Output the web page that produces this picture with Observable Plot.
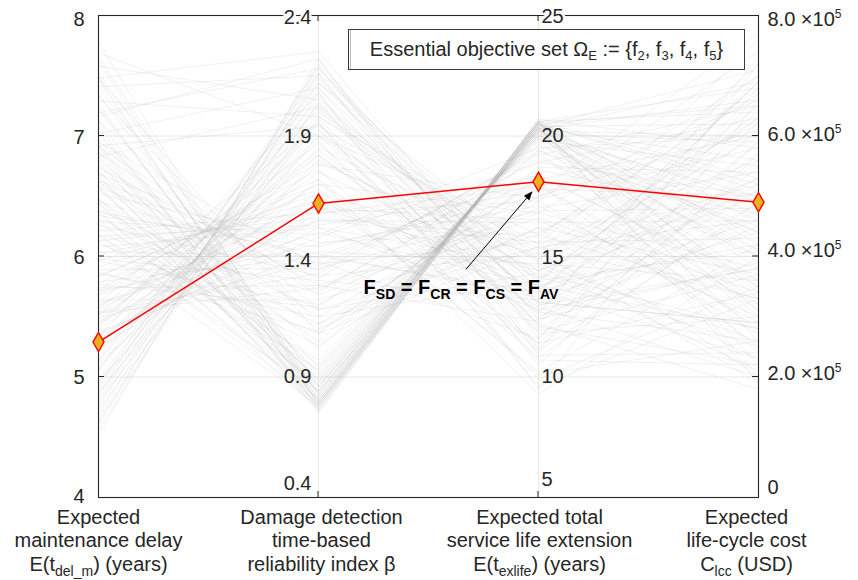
<!DOCTYPE html>
<html>
<head>
<meta charset="utf-8">
<script src="https://cdn.jsdelivr.net/npm/d3@7"></script>
<script src="https://cdn.jsdelivr.net/npm/@observablehq/plot@0.6"></script>
<style>
  body { margin: 0; background: #fff; }
  svg { display: block; }
</style>
</head>
<body>
<div id="chart"></div>
<script>
// Pareto solutions: expected maintenance delay (years)
const delay = [
  7.78, 7.62, 7.49, 7.41, 7.27, 7.22, 7.08, 7.04, 6.93, 6.91,
  6.83, 6.79, 6.76, 6.68, 6.66, 6.57, 6.56, 6.48, 6.44, 6.38,
  6.36, 6.31, 6.24, 6.19, 7.66, 7.34, 7.13, 6.97, 6.71, 6.59,
  6.43, 6.27, 7.46, 7.24, 6.87, 6.63, 7.53, 6.14, 6.06, 7.01,
  6.81, 6.62, 6.47, 6.39, 6.32, 6.18, 6.11, 5.98, 5.96, 5.89,
  5.86, 5.79, 5.74, 5.71, 5.64, 5.61, 5.54, 5.49, 5.46, 5.38,
  5.36, 5.31, 6.69, 6.26, 6.04, 5.77, 5.53, 5.24, 6.16, 5.87,
  5.68, 5.59, 5.51, 5.44, 5.39, 5.29, 5.26, 5.21, 5.14, 5.09,
  5.06, 4.99, 4.96, 4.91, 4.84, 4.79, 4.76, 4.69, 4.66, 4.61,
  4.56, 4.52, 5.34, 5.12, 4.97, 4.88, 4.73, 4.63, 5.56, 4.81,
  7.58, 7.41, 7.29, 7.16, 7.02, 6.92, 7.48, 6.83, 7.69, 7.19,
  6.52, 5.83, 6.21, 5.47, 6.95, 5.62, 6.08, 5.33, 6.74, 5.91,
  6.37, 5.18, 6.63, 5.72, 6.02, 5.41, 6.86, 5.97, 6.29, 5.57,
  7.12, 5.06, 6.45, 5.84, 6.13, 5.26, 6.58, 5.69, 7.33, 4.93,
  6.17, 5.52, 6.91, 5.78, 6.34, 5.14, 7.48, 5.44, 6.69, 4.86
];
// time-based reliability index beta
const beta = [
  0.78, 0.80, 0.76, 0.83, 0.79, 0.86, 0.77, 0.81, 0.84, 0.78,
  0.88, 0.80, 0.92, 0.76, 0.85, 0.79, 0.90, 0.82, 0.95, 0.77,
  0.87, 0.81, 0.93, 0.79, 0.82, 0.88, 0.75, 0.91, 0.84, 0.78,
  0.86, 0.97, 0.79, 0.83, 0.80, 0.89, 0.86, 0.84, 0.78, 0.94,
  1.02, 1.10, 1.05, 1.18, 1.12, 1.25, 1.08, 1.30, 1.20, 1.35,
  1.15, 1.40, 1.28, 1.45, 1.22, 1.50, 1.33, 1.38, 1.55, 1.42,
  1.48, 1.52, 1.15, 1.32, 1.40, 1.19, 1.27, 1.60, 1.03, 1.09,
  1.55, 1.62, 1.70, 1.66, 1.75, 1.82, 1.78, 1.88, 1.92, 1.85,
  1.97, 2.02, 1.95, 2.06, 2.10, 2.00, 2.14, 2.18, 2.08, 2.20,
  2.16, 2.22, 1.58, 1.72, 1.80, 1.90, 1.98, 2.04, 1.64, 2.12,
  2.05, 2.15, 1.98, 2.22, 2.10, 1.94, 2.25, 2.02, 1.90, 2.18,
  1.46, 1.72, 1.58, 1.84, 1.36, 1.95, 1.52, 2.08, 1.28, 1.66,
  1.41, 1.90, 1.34, 1.76, 1.60, 2.01, 1.24, 1.63, 1.49, 1.87,
  1.18, 2.12, 1.39, 1.70, 1.56, 1.96, 1.31, 1.79, 1.12, 2.16,
  1.53, 1.82, 1.26, 1.68, 1.44, 2.03, 1.08, 1.93, 1.37, 2.19
];
// expected total service life extension (years)
const life = [
  20.6, 20.5, 20.7, 20.4, 20.6, 20.3, 20.5, 20.6, 20.2, 20.4,
  20.1, 20.6, 20.0, 20.5, 20.3, 20.6, 20.1, 20.4, 19.9, 20.6,
  20.2, 20.5, 20.0, 20.4, 20.3, 20.2, 20.7, 19.9, 20.3, 20.5,
  20.2, 19.8, 20.6, 20.4, 20.5, 20.1, 20.3, 20.3, 20.5, 20.0,
  19.4, 16.2, 18.7, 14.3, 17.5, 19.1, 15.4, 13.2, 18.0, 16.9,
  14.0, 18.4, 12.3, 17.1, 15.9, 13.8, 19.3, 11.6, 16.4, 14.7,
  18.9, 12.8, 17.8, 15.1, 13.5, 19.6, 16.6, 14.4, 17.3, 18.2,
  15.6, 11.4, 16.8, 10.2, 14.1, 12.7, 17.4, 9.9, 13.4, 15.2,
  12.0, 13.2, 10.7, 13.7, 11.8, 14.8, 12.5, 12.9, 9.5, 13.0,
  14.1, 10.9, 17.9, 9.3, 14.4, 12.2, 15.5, 11.1, 13.8, 14.9,
  13.5, 12.4, 14.7, 11.6, 13.1, 15.3, 12.7, 14.0, 15.9, 13.6,
  16.0, 11.4, 17.3, 13.1, 18.9, 12.2, 14.6, 10.5, 16.8, 15.1,
  13.3, 14.2, 19.2, 10.8, 16.5, 12.6, 17.0, 13.6, 19.5, 11.9,
  15.4, 13.9, 18.1, 12.9, 15.8, 9.6, 19.4, 14.9, 16.2, 11.2,
  17.7, 12.4, 18.6, 10.1, 17.5, 14.4, 18.3, 11.0, 15.6, 12.1
];
// expected life-cycle cost (USD)
const cost = [
  4.2e5, 5.1e5, 3.3e5, 6.2e5, 2.6e5, 5.6e5, 3.8e5, 6.8e5, 4.6e5, 2.2e5,
  5.9e5, 3.1e5, 4.4e5, 6.5e5, 2.9e5, 5.3e5, 3.6e5, 7.1e5, 4.0e5, 2.0e5,
  6.0e5, 3.4e5, 5.0e5, 4.7e5, 3.0e5, 4.9e5, 5.8e5, 2.4e5, 6.9e5, 4.1e5,
  3.2e5, 5.5e5, 6.4e5, 1.9e5, 5.2e5, 2.7e5, 3.9e5, 6.6e5, 4.3e5, 3.5e5,
  4.5e5, 3.7e5, 5.4e5, 2.8e5, 6.1e5, 4.0e5, 3.3e5, 5.7e5, 2.5e5, 4.8e5,
  6.4e5, 3.5e5, 5.1e5, 2.9e5, 6.7e5, 4.2e5, 3.1e5, 5.9e5, 4.6e5, 2.6e5,
  6.3e5, 3.8e5, 5.0e5, 2.3e5, 6.9e5, 4.4e5, 3.4e5, 5.3e5, 2.7e5, 6.0e5,
  6.8e5, 5.5e5, 7.0e5, 4.2e5, 6.3e5, 2.6e5, 5.8e5, 3.5e5, 6.9e5, 1.9e5,
  4.9e5, 6.1e5, 2.2e5, 5.3e5, 3.0e5, 7.2e5, 4.5e5, 2.0e5, 6.6e5, 3.8e5,
  5.0e5, 2.4e5, 3.2e5, 4.0e5, 6.5e5, 1.8e5, 5.6e5, 4.8e5, 2.8e5, 6.0e5,
  4.6e5, 5.9e5, 3.6e5, 6.7e5, 2.9e5, 5.2e5, 7.0e5, 4.1e5, 3.3e5, 6.2e5,
  6.2e5, 3.4e5, 7.4e5, 2.9e5, 5.0e5, 6.8e5, 2.1e5, 5.7e5, 3.8e5, 7.6e5,
  4.4e5, 2.5e5, 6.5e5, 4.9e5, 3.0e5, 7.3e5, 5.4e5, 2.3e5, 6.0e5, 3.7e5,
  4.6e5, 6.9e5, 2.8e5, 5.2e5, 7.0e5, 3.3e5, 4.1e5, 6.3e5, 2.0e5, 5.6e5,
  7.7e5, 3.9e5, 4.7e5, 2.6e5, 6.6e5, 5.1e5, 3.6e5, 7.2e5, 4.3e5, 2.2e5
];

// the compromise solution where all four selection criteria agree
const chosen = [5.29, 1.62, 18.1, 4.9e5];

// axis ticks (bottom to top)
const ticksDelay = [4, 5, 6, 7, 8];
const ticksBeta = [0.4, 0.9, 1.4, 1.9, 2.4];
const ticksLife = [5, 10, 15, 20, 25];
const ticksCost = [0, 2e5, 4e5, 6e5, 8e5];
const labelsDelay = ["4", "5", "6", "7", "8"];
const labelsBeta = ["0.4", "0.9", "1.4", "1.9", "2.4"];
const labelsLife = ["5", "10", "15", "20", "25"];
const labelsCost = ["0", "2.0 ×10^{5}", "4.0 ×10^{5}", "6.0 ×10^{5}", "8.0 ×10^{5}"];

const axisTitles = [
  ["Expected", "maintenance delay", "E(t_{del_m}) (years)"],
  ["Damage detection", "time-based", "reliability index β"],
  ["Expected total", "service life extension", "E(t_{exlife}) (years)"],
  ["Expected", "life-cycle cost", "C_{lcc} (USD)"]
];
const legendText = "Essential objective set Ω_{E} := {f_{2}, f_{3}, f_{4}, f_{5}}";
const noteText = "F_{SD} = F_{CR} = F_{CS} = F_{AV}";

const columns = [delay, beta, life, cost];
const tickSets = [ticksDelay, ticksBeta, ticksLife, ticksCost];
const labelSets = [labelsDelay, labelsBeta, labelsLife, labelsCost];

// each objective is mapped onto a shared 0..1 vertical range
const norm = tickSets.map(t => d3.scaleLinear().domain([t[0], t[t.length - 1]]));

const rows = [];
delay.forEach((_, i) => {
  columns.forEach((col, k) => rows.push({id: i, axis: k, v: norm[k](col[i])}));
});
const chosenRows = chosen.map((val, k) => ({axis: k, v: norm[k](val)}));

const FONT = "'Liberation Sans', Arial, Helvetica, sans-serif";
const INK = "#262626";

// tick label placement per axis: anchor, dx, and vertical nudges
const labelStyle = [
  {anchor: "end", dx: -14, dy: [-1, 1, 1, 2, 4], halo: [false, false, false, false, false]},
  {anchor: "end", dx: -7, dy: [-14, 0, 4, 1, 2], halo: [false, false, false, false, true]},
  {anchor: "start", dx: 3, dy: [-18, 0, 1, 0, 1], halo: [false, false, false, false, true]},
  {anchor: "start", dx: 9, dy: [-10, -3, -6, -1, 4], halo: [false, false, false, false, false]}
];

const labelMarks = [];
tickSets.forEach((ticks, k) => {
  const st = labelStyle[k];
  ticks.forEach((t, j) => {
    labelMarks.push(Plot.text([{axis: k, v: norm[k](t), label: labelSets[k][j]}], {
      x: "axis", y: "v", text: "label",
      textAnchor: st.anchor, dx: st.dx, dy: st.dy[j],
      fontSize: 20, fill: INK, fontFamily: FONT,
      stroke: st.halo[j] ? "white" : null, strokeWidth: st.halo[j] ? 5 : null
    }));
  });
});

const titleShift = [0, 3, 1, -12];
const titleMarks = [];
axisTitles.forEach((lines, k) => {
  lines.forEach((line, j) => {
    titleMarks.push(Plot.text([{axis: k, v: 0, label: line}], {
      x: "axis", y: "v", text: "label",
      lineAnchor: "bottom", dx: titleShift[k], dy: 26 + j * 23.5,
      fontSize: 20, fill: INK, fontFamily: FONT
    }));
  });
});

const fig = Plot.plot({
  width: 858,
  height: 580,
  marginLeft: 98,
  marginRight: 100,
  marginTop: 15,
  marginBottom: 83,
  x: {domain: [0, 3], axis: null},
  y: {domain: [0, 1], axis: null},
  style: {fontFamily: FONT, background: "white", overflow: "visible"},
  marks: [
    Plot.ruleY([0.25, 0.5, 0.75], {stroke: "#e8e8e8", strokeWidth: 1}),
    Plot.ruleX([1, 2], {stroke: "#e8e8e8", strokeWidth: 1}),
    Plot.line(rows, {x: "axis", y: "v", z: "id", stroke: "#b0b0b0", strokeOpacity: 0.26, strokeWidth: 0.7}),
    Plot.frame({stroke: INK, strokeWidth: 1.1}),
    Plot.line(chosenRows, {x: "axis", y: "v", stroke: "#ff0000", strokeWidth: 1.5}),
    Plot.dot(chosenRows, {x: "axis", y: "v", symbol: "diamond", r: 5.8, fill: "#EDB120", stroke: "#ff0000", strokeWidth: 1.4}),
    ...labelMarks,
    ...titleMarks
  ]
});

const svg = d3.select(fig);
const sx = fig.scale("x"), sy = fig.scale("y");
const X = v => sx.apply(v), Y = v => sy.apply(v);

// inward tick marks on the outer axes, short ticks at both ends of the inner axes
const ticksLayer = svg.append("g").attr("stroke", INK).attr("stroke-width", 1);
[0.25, 0.5, 0.75].forEach(v => {
  ticksLayer.append("line").attr("x1", X(0)).attr("x2", X(0) + 6).attr("y1", Y(v)).attr("y2", Y(v));
  ticksLayer.append("line").attr("x1", X(3)).attr("x2", X(3) - 6).attr("y1", Y(v)).attr("y2", Y(v));
});
[1, 2].forEach(a => {
  ticksLayer.append("line").attr("x1", X(a)).attr("x2", X(a)).attr("y1", Y(0)).attr("y2", Y(0) - 6);
  ticksLayer.append("line").attr("x1", X(a)).attr("x2", X(a)).attr("y1", Y(1)).attr("y2", Y(1) + 6);
});

// legend box with the objective set
const box = svg.append("g");
box.append("rect").attr("x", 348.5).attr("y", 29.5).attr("width", 396).attr("height", 40)
  .attr("fill", "white").attr("stroke", "#3a3a3a").attr("stroke-width", 1);
box.append("line").attr("x1", 350.5).attr("x2", 350.5).attr("y1", 30).attr("y2", 69)
  .attr("stroke", "#bbb").attr("stroke-width", 1);
box.append("text").attr("x", 546.5).attr("y", 56).attr("text-anchor", "middle")
  .attr("font-size", 20).attr("fill", INK).attr("font-family", FONT)
  .attr("class", "rich-legend").text(legendText);

// annotation pointing to the chosen solution on the service-life axis
const px = X(2), py = Y(norm[2](chosen[2]));
const tip = [px - 5.5, py + 10], tail = [px - 72, py + 88];
const ang = Math.atan2(tip[1] - tail[1], tip[0] - tail[0]);
const hl = 9, hw = 3.5;
const base = [tip[0] - hl * Math.cos(ang), tip[1] - hl * Math.sin(ang)];
svg.append("line").attr("x1", tail[0]).attr("y1", tail[1]).attr("x2", base[0]).attr("y2", base[1])
  .attr("stroke", "black").attr("stroke-width", 1);
svg.append("path")
  .attr("d", `M${tip[0]},${tip[1]}L${base[0] + hw * Math.sin(ang)},${base[1] - hw * Math.cos(ang)}L${base[0] - hw * Math.sin(ang)},${base[1] + hw * Math.cos(ang)}Z`)
  .attr("fill", "black");
svg.append("text").attr("x", px - 77).attr("y", py + 113).attr("text-anchor", "middle")
  .attr("font-size", 20).attr("font-weight", "bold").attr("fill", "black").attr("font-family", FONT)
  .attr("class", "rich-note").text(noteText);

// turn ^{..} and _{..} markup into raised / lowered tspans
function richify(node, opt) {
  const s = node.textContent;
  if (!/[\^_]\{/.test(s)) return;
  node.textContent = "";
  const re = /([\^_])\{([^}]*)\}/g;
  let last = 0, m;
  const add = (txt, sup, sub) => {
    const t = document.createElementNS("http://www.w3.org/2000/svg", "tspan");
    t.textContent = txt;
    if (sup) { t.setAttribute("font-size", opt.supSize); t.setAttribute("baseline-shift", opt.supShift); }
    if (sub) { t.setAttribute("font-size", opt.subSize); t.setAttribute("baseline-shift", -opt.subShift); }
    node.appendChild(t);
  };
  while ((m = re.exec(s))) {
    if (m.index > last) add(s.slice(last, m.index));
    add(m[2], m[1] === "^", m[1] === "_");
    last = re.lastIndex;
  }
  if (last < s.length) add(s.slice(last));
}
svg.selectAll("text").each(function () {
  const cls = this.getAttribute("class") || "";
  if (cls.includes("rich-legend")) richify(this, {subSize: 13, subShift: 4, supSize: 12, supShift: 8});
  else richify(this, {subSize: 14, subShift: 5, supSize: 12, supShift: 8});
});

document.getElementById("chart").appendChild(fig);
</script>
</body>
</html>
